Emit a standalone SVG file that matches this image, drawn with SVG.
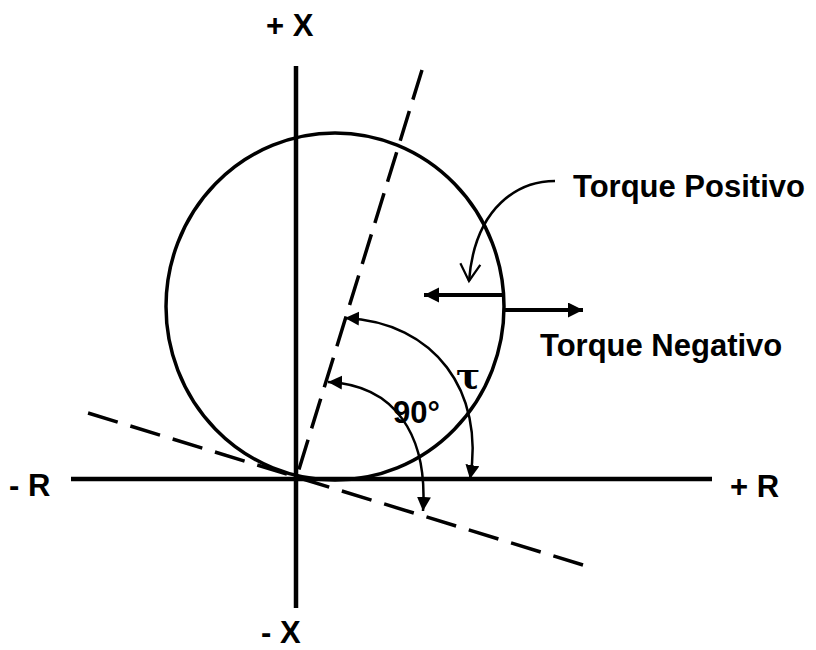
<svg xmlns="http://www.w3.org/2000/svg" width="816" height="650" viewBox="0 0 816 650">
<style>
.ax{stroke:#000;stroke-width:4.5;fill:none}
.dash{stroke:#000;stroke-width:3.5;fill:none;stroke-dasharray:31 12}
.arc{stroke:#000;stroke-width:2.5;fill:none}
.thick{stroke:#000;stroke-width:4;fill:none}
.lbl{font-family:"Liberation Sans",Arial,sans-serif;font-weight:bold;font-size:31px;fill:#000}
</style>
<defs>
<marker id="ah" markerUnits="userSpaceOnUse" markerWidth="16" markerHeight="16" refX="14" refY="7" orient="auto-start-reverse">
<path d="M0,0 L14,7 L0,14 z" fill="#000"/>
</marker>
<marker id="ahb" markerUnits="userSpaceOnUse" markerWidth="18" markerHeight="18" refX="15" refY="7.5" orient="auto-start-reverse">
<path d="M0,0 L15,7.5 L0,15 z" fill="#000"/>
</marker>
<marker id="open" markerUnits="userSpaceOnUse" markerWidth="24" markerHeight="24" refX="17" refY="10" orient="auto" overflow="visible">
<path d="M0,0 L17,10 L0,20" fill="none" stroke="#000" stroke-width="2.2"/>
</marker>
</defs>
<g id="connectors">
<line class="ax" x1="296" y1="66" x2="296" y2="608"/>
<line class="ax" x1="71" y1="479" x2="712" y2="479"/>
<line class="dash" x1="422" y1="70" x2="296" y2="479"/>
<line class="dash" x1="583" y1="565" x2="88" y2="413" style="stroke-dasharray:31 13.25"/>
<path class="arc" d="M345,318 C435,322 485,392 470,479" marker-start="url(#ah)" marker-end="url(#ah)"/>
<path class="arc" d="M328,382 C395,385 428,435 423,511" marker-start="url(#ah)" marker-end="url(#ah)"/>
<path class="thick" d="M502,295 H424" marker-end="url(#ahb)"/>
<path class="thick" d="M504,310 H583" marker-end="url(#ahb)"/>
<path class="arc" d="M555,181 C520,181 475,205 469,281" marker-end="url(#open)"/>
</g>
<g id="circle">
<ellipse cx="335" cy="306.5" rx="169" ry="173.5" fill="none" stroke="#000" stroke-width="3.5"/>
</g>
<g id="labels">
<text class="lbl" x="266" y="36">+ X</text>
<text class="lbl" x="261" y="643">- X</text>
<text class="lbl" x="9" y="496">- R</text>
<text class="lbl" x="730" y="497">+ R</text>
<text class="lbl" x="573" y="197">Torque Positivo</text>
<text class="lbl" x="540" y="356">Torque Negativo</text>
<text class="lbl" x="393" y="423">90°</text>
<text x="456" y="388" style="font-family:'DejaVu Serif','Liberation Serif',serif;font-weight:bold;font-size:36px;fill:#000">τ</text>
</g>
</svg>
